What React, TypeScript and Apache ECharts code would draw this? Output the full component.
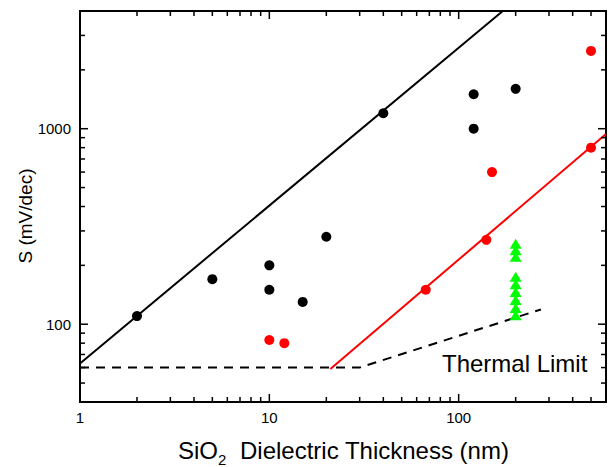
import React, { useEffect, useRef } from "react";
import * as echarts from "echarts";

const X_MIN = 1;
const X_MAX = 600;
const Y_MIN = 40;
const Y_MAX = 4000;

const X_TICK_LABELS = [1, 10, 100];
const Y_TICK_LABELS = [100, 1000];
const X_MINOR = [2, 3, 4, 5, 6, 7, 8, 9, 20, 30, 40, 50, 60, 70, 80, 90, 200, 300, 400, 500, 600];
const Y_MINOR = [40, 50, 60, 70, 80, 90, 200, 300, 400, 500, 600, 700, 800, 900, 2000, 3000, 4000];

const blackX = [2, 5, 10, 10, 15, 20, 40, 120, 120, 200];
const blackY = [110, 170, 200, 150, 130, 280, 1200, 1500, 1000, 1600];

const redX = [10, 12, 67, 140, 150, 500, 500];
const redY = [83, 80, 150, 270, 600, 800, 2500];

const greenX = [200, 200, 200, 200, 200, 200, 200, 200, 200];
const greenY = [258, 239, 221, 175, 160, 146, 133, 121, 111];

const blackLineX = [1, 171];
const blackLineY = [63, 4000];
const redLineX = [21, 600];
const redLineY = [59, 940];
const thermalX = [1, 30, 272];
const thermalY = [60, 60, 119];

const FONT = "'Liberation Sans', Arial, Helvetica, sans-serif";

const zip = (xs: number[], ys: number[]) => xs.map((x, i) => [x, ys[i]]);
const isLabel = (v: number, list: number[]) =>
  list.some((t) => Math.abs(Math.log10(v) - Math.log10(t)) < 1e-6);

export default function App() {
  const ref = useRef<HTMLDivElement>(null);

  useEffect(() => {
    if (!ref.current) return;
    const chart = echarts.init(ref.current, undefined, { renderer: "svg" });

    const tickData: number[][] = [];
    X_TICK_LABELS.forEach((v) => tickData.push([v, Y_MIN, 0, 1]));
    X_MINOR.forEach((v) => tickData.push([v, Y_MIN, 0, 0]));
    Y_TICK_LABELS.forEach((v) => tickData.push([X_MIN, v, 1, 1]));
    Y_MINOR.forEach((v) => tickData.push([X_MIN, v, 1, 0]));

    const tickStyle = { stroke: "#000", lineWidth: 1.5 };

    chart.setOption({
      animation: false,
      backgroundColor: "#fff",
      grid: {
        left: 80,
        top: 11,
        width: 531,
        height: 391,
        show: true,
        borderColor: "#000",
        borderWidth: 2,
        backgroundColor: "transparent",
      },
      xAxis: {
        type: "log",
        logBase: 10,
        min: X_MIN,
        max: X_MAX,
        axisLine: { show: false },
        axisTick: { show: false },
        splitLine: { show: false },
        axisLabel: {
          margin: 8,
          fontSize: 15,
          color: "#000",
          fontFamily: FONT,
          showMinLabel: true,
          showMaxLabel: true,
          formatter: (v: number) => (isLabel(v, X_TICK_LABELS) ? String(Math.round(v)) : ""),
        },
      },
      yAxis: {
        type: "log",
        logBase: 10,
        min: Y_MIN,
        max: Y_MAX,
        axisLine: { show: false },
        axisTick: { show: false },
        splitLine: { show: false },
        axisLabel: {
          margin: 9,
          fontSize: 15,
          color: "#000",
          fontFamily: FONT,
          showMinLabel: true,
          showMaxLabel: true,
          formatter: (v: number) => (isLabel(v, Y_TICK_LABELS) ? String(Math.round(v)) : ""),
        },
      },
      graphic: [
        {
          type: "text",
          x: 25.5,
          y: 216,
          rotation: Math.PI / 2,
          style: {
            text: "S (mV/dec)",
            fontSize: 19,
            fontFamily: FONT,
            fill: "#000",
            align: "center",
            verticalAlign: "middle",
          },
        },
        {
          type: "text",
          x: 178,
          y: 450,
          style: {
            text: "SiO",
            fontSize: 24,
            fontFamily: FONT,
            fill: "#000",
            align: "left",
            verticalAlign: "middle",
          },
        },
        {
          type: "text",
          x: 218,
          y: 459,
          style: {
            text: "2",
            fontSize: 15,
            fontFamily: FONT,
            fill: "#000",
            align: "left",
            verticalAlign: "middle",
          },
        },
        {
          type: "text",
          x: 240,
          y: 450,
          style: {
            text: "Dielectric Thickness (nm)",
            fontSize: 24,
            fontFamily: FONT,
            fill: "#000",
            align: "left",
            verticalAlign: "middle",
          },
        },
        {
          type: "text",
          x: 442,
          y: 363,
          style: {
            text: "Thermal Limit",
            fontSize: 24,
            fontFamily: FONT,
            fill: "#000",
            align: "left",
            verticalAlign: "middle",
          },
        },
      ],
      series: [
        {
          type: "custom",
          silent: true,
          clip: false,
          z: 5,
          encode: { x: 0, y: 1 },
          data: tickData,
          renderItem: (_params: any, api: any) => {
            const v = api.value(0);
            const yv = api.value(1);
            const kind = api.value(2);
            const major = api.value(3);
            const len = major ? 8 : 5;
            if (kind === 0) {
              const b = api.coord([v, Y_MIN]);
              const t = api.coord([v, Y_MAX]);
              return {
                type: "group",
                children: [
                  { type: "line", shape: { x1: b[0], y1: b[1], x2: b[0], y2: b[1] - len }, style: tickStyle },
                  { type: "line", shape: { x1: t[0], y1: t[1], x2: t[0], y2: t[1] + len }, style: tickStyle },
                ],
              };
            }
            const l = api.coord([X_MIN, yv]);
            const r = api.coord([X_MAX, yv]);
            return {
              type: "group",
              children: [
                { type: "line", shape: { x1: l[0], y1: l[1], x2: l[0] + len, y2: l[1] }, style: tickStyle },
                { type: "line", shape: { x1: r[0], y1: r[1], x2: r[0] - len, y2: r[1] }, style: tickStyle },
              ],
            };
          },
        },
        {
          type: "line",
          data: zip(thermalX, thermalY),
          showSymbol: false,
          symbol: "none",
          lineStyle: { color: "#000", width: 2, type: [9, 7] },
          z: 2,
        },
        {
          type: "line",
          data: zip(blackLineX, blackLineY),
          symbol: "none",
          lineStyle: { color: "#000", width: 2 },
          z: 2,
        },
        {
          type: "line",
          data: zip(redLineX, redLineY),
          symbol: "none",
          lineStyle: { color: "#ff0000", width: 2 },
          z: 2,
        },
        {
          type: "scatter",
          data: zip(blackX, blackY),
          symbol: "circle",
          symbolSize: 10,
          itemStyle: { color: "#000", opacity: 1 },
          z: 3,
        },
        {
          type: "scatter",
          data: zip(redX, redY),
          symbol: "circle",
          symbolSize: 10,
          itemStyle: { color: "#ff0000", opacity: 1 },
          z: 3,
        },
        {
          type: "scatter",
          data: zip(greenX, greenY),
          symbol: "triangle",
          symbolSize: [12, 10],
          itemStyle: { color: "#00ff00", opacity: 1 },
          z: 3,
        },
      ],
    });

    return () => chart.dispose();
  }, []);

  return (
    <div
      ref={ref}
      style={{ position: "fixed", left: 0, top: 0, width: 609, height: 467, background: "#fff" }}
    />
  );
}
